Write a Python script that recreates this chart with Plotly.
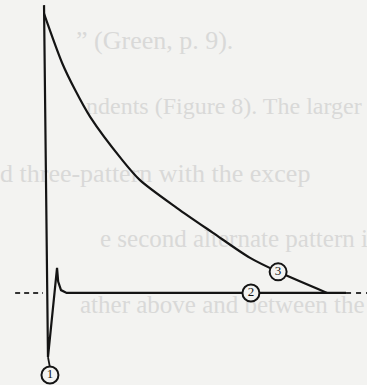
import plotly.graph_objects as go

# Decay branch (3): amplitude falling from the peak back to baseline
decay_t = [0.0, 0.64, 1.10, 1.63, 2.76, 3.39, 4.70, 5.97, 7.28, 8.27, 10.0]
decay_v = [0.98, 0.807, 0.712, 0.618, 0.467, 0.396, 0.298, 0.211, 0.123, 0.074, 0.0]

# Initial transient (1) followed by the flat baseline (2)
trans_t = [0.0, 0.14, 0.46, 0.50, 0.60, 0.80, 10.67]
trans_v = [1.01, -0.225, 0.088, 0.04, 0.01, 0.0, 0.0]

# Dotted continuation of the baseline on both sides
dash_left_t = [-1.02, -0.04]
dash_right_t = [10.67, 11.45]

# Circled markers
label_text = ["1", "2", "3"]
label_t = [0.21, 7.31, 8.27]
label_v = [-0.288, 0.0, 0.074]

# Lead from the transient trough to marker 1
lead_t = [0.14, 0.21]
lead_v = [-0.225, -0.262]

# Faint print showing through from the facing page
ghost_text = [
    "\u201d (Green, p. 9).",
    "ndents (Figure 8). The larger",
    "d three-pattern with the excep",
    "e second alternate pattern in F",
    "ather above and between the",
]

W, H = 367, 385
X0, X1 = -1.555, 11.41
Y0, Y1 = -0.323, 1.028
PAPER = "#f3f3f1"
INK = "#141414"


def px_to_x(px):
    return X0 + px / W * (X1 - X0)


def py_to_y(py):
    return Y1 - py / H * (Y1 - Y0)


ghost_px = [76, 86, 0, 100, 80]
ghost_py = [42, 108, 175, 241, 307]
ghost_size = [26, 24, 26, 25, 25]

fig = go.Figure()

# ghost print first so it sits beneath the drawing
for txt, gx, gy, gs in zip(ghost_text, ghost_px, ghost_py, ghost_size):
    fig.add_trace(go.Scatter(
        x=[px_to_x(gx)], y=[py_to_y(gy)],
        mode="text", text=[txt], textposition="middle right",
        textfont=dict(family="Liberation Serif", size=gs, color="#d9d9d8"),
        hoverinfo="skip", cliponaxis=True))

fig.add_trace(go.Scatter(x=dash_left_t, y=[0, 0], mode="lines",
                         line=dict(color="#333", width=2, dash="5px,4px"),
                         hoverinfo="skip"))
fig.add_trace(go.Scatter(x=dash_right_t, y=[0, 0], mode="lines",
                         line=dict(color="#333", width=2, dash="5px,5px"),
                         hoverinfo="skip"))
fig.add_trace(go.Scatter(x=trans_t, y=trans_v, mode="lines",
                         line=dict(color=INK, width=2.2), hoverinfo="skip"))
fig.add_trace(go.Scatter(x=decay_t, y=decay_v, mode="lines",
                         line=dict(color=INK, width=2.2, shape="spline", smoothing=0.8),
                         hoverinfo="skip"))
fig.add_trace(go.Scatter(x=lead_t, y=lead_v, mode="lines",
                         line=dict(color=INK, width=1.8), hoverinfo="skip"))
fig.add_trace(go.Scatter(x=label_t, y=label_v, mode="markers+text",
                         text=label_text, textposition="middle center",
                         textfont=dict(family="Liberation Serif", size=13, color=INK),
                         marker=dict(symbol="circle", size=17, color=PAPER,
                                     line=dict(color=INK, width=2)),
                         hoverinfo="skip"))

fig.update_layout(
    width=W, height=H,
    margin=dict(l=0, r=0, t=0, b=0),
    paper_bgcolor=PAPER, plot_bgcolor=PAPER,
    showlegend=False,
    xaxis=dict(range=[X0, X1], visible=False, fixedrange=True),
    yaxis=dict(range=[Y0, Y1], visible=False, fixedrange=True),
)

fig.write_html("out.html")
